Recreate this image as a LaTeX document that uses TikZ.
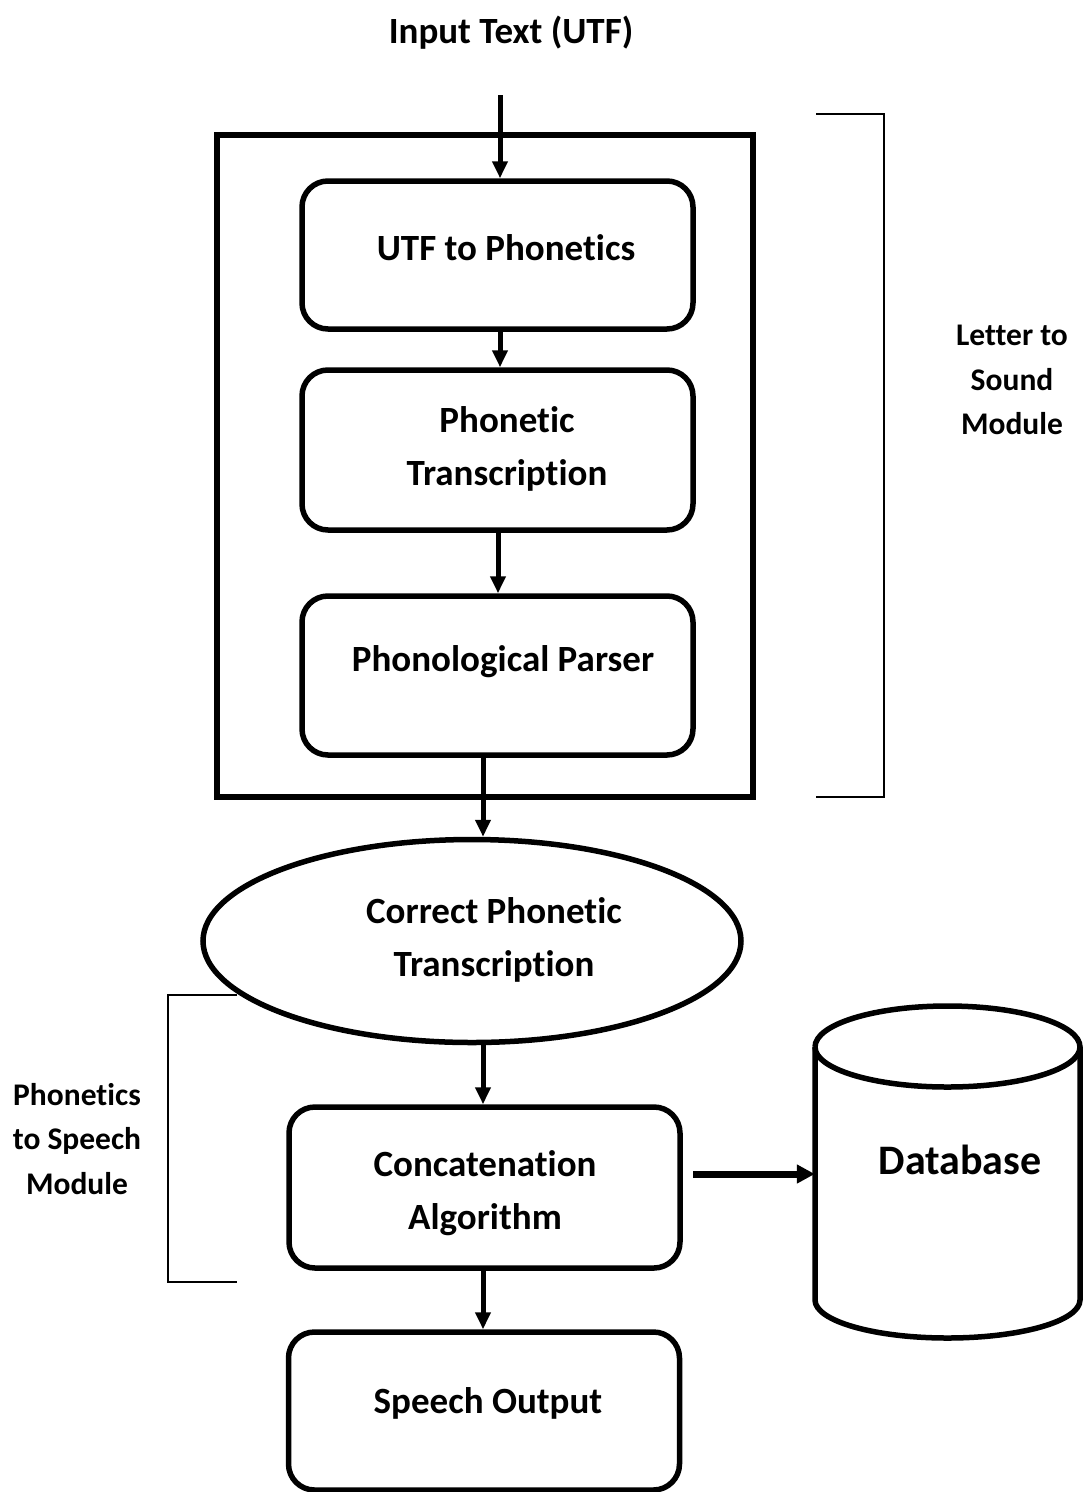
\documentclass[tikz,border=0pt]{standalone}
\usepackage{fontspec}
\setmainfont[Ligatures=NoCommon]{Carlito}
\usetikzlibrary{arrows.meta,shapes.geometric}

\tikzset{
  procbox/.style={draw, line width=5.5pt, rounded corners=26pt, inner sep=0pt,
    minimum width=391pt},
  frame/.style={draw, line width=5.5pt},
  txt/.style={font=\bfseries\fontsize{37}{53}\selectfont, align=center, inner sep=0pt},
  sidetxt/.style={font=\bfseries\fontsize{31.5}{44.5}\selectfont, align=center, inner sep=0pt},
  flow/.style={line width=5pt, -{Triangle[width=15pt,length=17pt]}},
  brace/.style={line width=1.5pt},
}

\begin{document}
\begin{tikzpicture}[x=1pt,y=-1pt]
\useasboundingbox (0,0) rectangle (1083,1492);

% title
\node[txt] (title) at (511,33) {Input Text (UTF)};
\coordinate (inTop) at (500,95);

% letter-to-sound frame
\draw[frame] (217,135) rectangle (753,797);

% processing steps
\node[procbox, minimum height=148pt] (utf) at (497.5,255) {};
\node[txt] (utfT) at (506,248) {UTF to Phonetics};

\node[procbox, minimum height=160pt] (pt) at (497.5,450) {};
\node[txt] (ptT) at (507,449) {Phonetic\\Transcription};

\node[procbox, minimum height=159pt] (pp) at (497.5,675.5) {};
\node[txt] (ppT) at (503,662) {Phonological Parser};

% correct transcription
\node[draw, ellipse, line width=5.5pt, minimum width=538pt, minimum height=203pt, inner sep=0pt]
  (cpt) at (472,941) {};
\node[txt] (cptT) at (494,940) {Correct Phonetic\\Transcription};

\node[procbox, minimum height=161pt] (cat) at (484.5,1187.5) {};
\node[txt] (catT) at (485,1193) {Concatenation\\Algorithm};

\node[procbox, minimum height=158pt] (out) at (484,1411) {};
\node[txt] (outT) at (488,1403) {Speech Output};

% database cylinder
\draw[line width=5.5pt, fill=white]
  (815,1047) -- (815,1300) arc[start angle=180, end angle=360, x radius=132.5pt, y radius=38pt]
  -- (1080,1047) arc[start angle=0, end angle=180, x radius=132.5pt, y radius=41pt];
\draw[line width=5.5pt] (815,1047) arc[start angle=180, end angle=360, x radius=132.5pt, y radius=40pt];
\node[inner sep=0pt, minimum width=265pt, minimum height=10pt] (db) at (947.5,1172) {};
\node[font=\bfseries\fontsize{42}{50}\selectfont, inner sep=0pt] (dbT) at (960,1160) {Database};

% arrows
\draw[flow] (inTop) -- (utf.north -| inTop);
\draw[flow] (utf.south -| 500,0) -- (pt.north -| 500,0);
\draw[flow] (pt.south -| 498,0) -- (pp.north -| 498,0);
\draw[flow] (pp.south -| 483,0) -- (cpt.north -| 483,0);
\draw[flow] (cpt.south -| 483,0) -- (cat.north -| 483,0);
\draw[flow] (cat.south -| 483,0) -- (out.north -| 483,0);
\draw[line width=7pt, -{Triangle[width=18pt,length=18pt]}] (693,1174) -- (db.west |- 0,1174);

% bracket: letter to sound
\coordinate (b1a) at (816,114);
\coordinate (b1b) at (884,114);
\coordinate (b1c) at (884,797);
\coordinate (b1d) at (816,797);
\draw[brace] (b1a) -- (b1b) -- (b1c) -- (b1d);
\node[sidetxt] (lts) at (1012,380) {Letter to\\Sound\\Module};

% bracket: phonetics to speech
\coordinate (b2a) at (237,995);
\coordinate (b2b) at (168,995);
\coordinate (b2c) at (168,1282);
\coordinate (b2d) at (237,1282);
\draw[brace] (b2a) -- (b2b) -- (b2c) -- (b2d);
\node[sidetxt] (pts) at (77,1139) {Phonetics\\to Speech\\Module};
\end{tikzpicture}
\end{document}
